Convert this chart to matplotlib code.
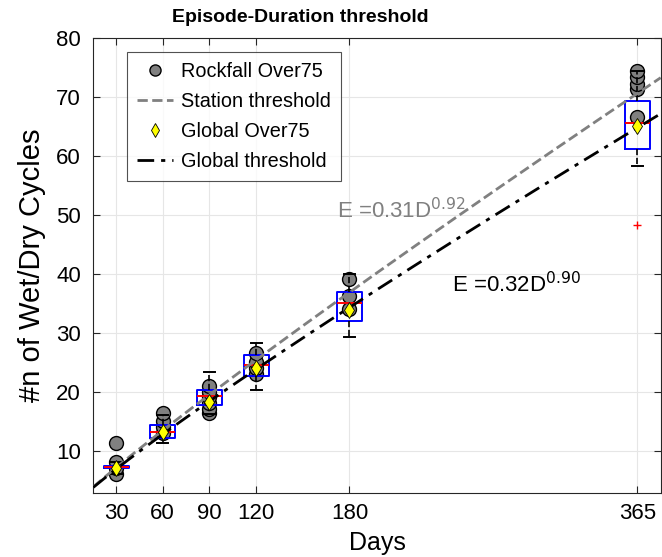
import matplotlib
matplotlib.use("Agg")
import matplotlib.pyplot as plt
import numpy as np

plt.rcParams['font.family'] = ['Liberation Sans', 'DejaVu Sans']

# ---- data ----
days = [30, 60, 90, 120, 180, 365]
tick_labels = ["30", "60", "90", "120", "180", "365"]

# box statistics per duration
box_q1 = [7, 12.2, 17.8, 22.7, 32.0, 61.2]
box_med = [7.2, 13.2, 19.2, 24.5, 35.1, 65.6]
box_q3 = [7.4, 14.3, 20.3, 26.2, 36.9, 69.3]
whis_lo = [6, 11.3, 16.2, 20.3, 29.3, 58.2]
whis_hi = [8, 16, 23.3, 28.2, 40.0, 74.3]
box_outliers = [[], [], [], [], [], [48.3]]

# Rockfall Over75 points
rock_vals = [
    [6, 7, 8, 11.3],
    [13, 14, 15, 16.3],
    [16.3, 17, 18, 19, 20, 21],
    [23, 24, 25, 26.5],
    [34, 36.2, 39.1],
    [66.5, 71.3, 72.2, 73.3, 74.3],
]

# Global Over75
global_vals = [7, 13.1, 18.2, 24.0, 33.9, 65.1]

# thresholds E = a * D^b
station_a, station_b = 0.31, 0.92
global_a, global_b = 0.32, 0.90

# ---- figure ----
fig = plt.figure(figsize=(6.62, 5.57), dpi=100)
ax = fig.add_axes([0.141, 0.115, 0.857, 0.817])

xlim = (15.4, 380)
ylim = (2.8, 80)

stats = []
for i in range(len(days)):
    stats.append(dict(med=box_med[i], q1=box_q1[i], q3=box_q3[i],
                      whislo=whis_lo[i], whishi=whis_hi[i],
                      fliers=box_outliers[i]))

ax.bxp(stats, positions=days, widths=16, capwidths=7, manage_ticks=False,
       boxprops=dict(color='blue', linewidth=1.4),
       medianprops=dict(color='red', linewidth=1.4),
       whiskerprops=dict(color='black', linestyle='--', linewidth=1.2),
       capprops=dict(color='black', linewidth=1.4),
       flierprops=dict(marker='+', markeredgecolor='red', markersize=6,
                       linestyle='none'),
       zorder=3)

# rockfall points
for d, vals in zip(days, rock_vals):
    ax.plot([d] * len(vals), vals, 'o', color='#808080', markeredgecolor='black',
            markersize=10, markeredgewidth=1.0, zorder=2)

xx = np.linspace(xlim[0], xlim[1], 400)
ax.plot(xx, station_a * xx ** station_b, '--', color='#808080', linewidth=2,
        zorder=4)

ax.plot(days, global_vals, 'd', color='yellow', markeredgecolor='black',
        markersize=8.5, markeredgewidth=0.6, zorder=5)

ax.plot(xx, global_a * xx ** global_b, linestyle=(0, (6, 2.5, 1.5, 2.5)),
        color='black', linewidth=2, zorder=4)

ax.text(171.8, 49.4, r'E =0.31D$^{0.92}$', color='#808080', fontsize=16,
        va='baseline', ha='left')
ax.text(245.7, 36.9, r'E =0.32D$^{0.90}$', color='black', fontsize=16,
        va='baseline', ha='left')

ax.set_xlim(*xlim)
ax.set_ylim(*ylim)
ax.set_xticks(days)
ax.set_xticklabels(tick_labels)
ax.set_yticks(np.arange(10, 81, 10))
ax.tick_params(direction='in', top=True, right=True, labelsize=16,
               length=5, colors='#262626', labelcolor='black')
ax.tick_params(axis='x', pad=7)
ax.tick_params(axis='y', pad=9)
ax.grid(True, color='#e6e6e6', linewidth=0.8)
ax.set_axisbelow(True)
for s in ax.spines.values():
    s.set_color('#262626')
    s.set_linewidth(0.8)

ax.set_xlabel('Days', fontsize=18, labelpad=5)
ax.set_ylabel('#n of Wet/Dry Cycles', fontsize=21, labelpad=7)
fig.text(300 / 662, 1 - 18 / 557, 'Episode-Duration threshold', fontsize=14,
         fontweight='bold', ha='center', va='center')

mk_circle = plt.Line2D([], [], marker='o', linestyle='none', color='#808080',
                       markeredgecolor='black', markersize=8)
mk_diamond = plt.Line2D([], [], marker='d', linestyle='none', color='yellow',
                        markeredgecolor='black', markersize=7, markeredgewidth=0.6)
mk_station = plt.Line2D([], [], linestyle='--', color='#808080', linewidth=2)
mk_global = plt.Line2D([], [], linestyle=(0, (6, 2.5, 1.5, 2.5)), color='black',
                       linewidth=2)

leg = ax.legend([mk_circle, mk_station, mk_diamond, mk_global],
                ['Rockfall Over75', 'Station threshold', 'Global Over75',
                 'Global threshold'],
                loc='upper left', bbox_to_anchor=(0.06, 0.969), fontsize=14.3,
                frameon=True, fancybox=False, edgecolor='#262626',
                handlelength=1.8, borderpad=0.5, labelspacing=0.55,
                handletextpad=0.4, borderaxespad=0)
leg.get_frame().set_linewidth(0.8)

fig.savefig('out.png', dpi=100)
